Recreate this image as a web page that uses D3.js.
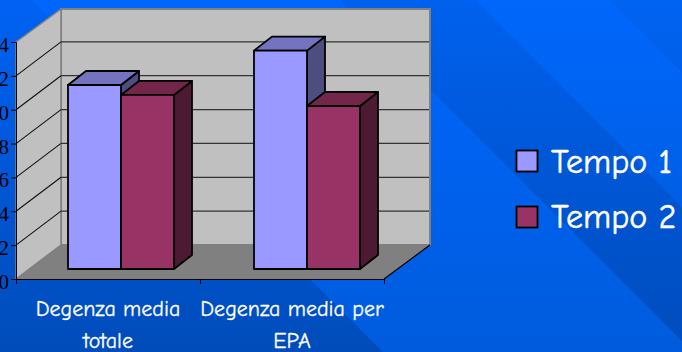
<!DOCTYPE html>
<html><head><meta charset="utf-8">
<script src="https://cdnjs.cloudflare.com/ajax/libs/d3/7.8.5/d3.min.js"></script>
<style>html,body{margin:0;padding:0;background:#0058d8;overflow:hidden}svg{display:block}</style>
</head><body><svg id="c" width="682" height="352"></svg>
<script>
const categories = [["Degenza media","totale"],["Degenza media per","EPA"]];
const tempo1 = [10.87, 12.9];
const tempo2 = [10.28, 9.63];
const seriesNames = ["Tempo 1","Tempo 2"];
const yTicks = [0,2,4,6,8,10,12,14];
const frontColors = ["#9999ff","#993366"];
const topColors = ["#7373bf","#732649"];
const sideColors = ["#4d4d80","#4d1a33"];
const bandEdges = [-400,31,341,475,610,800];
const bandTop = ["#0062f4","#0066ff","#0061ee","#0067fc","#0063f2"];
const bandBottom = ["#004cba","#005cdc","#004cbc","#0058d4","#0052c6"];

const W=682,H=352;
const svg=d3.select("#c");
const defs=svg.append("defs");
bandTop.forEach((c,i)=>{
  const gr=defs.append("linearGradient").attr("id","b"+i).attr("gradientUnits","userSpaceOnUse").attr("x1",0).attr("y1",0).attr("x2",0).attr("y2",H);
  gr.append("stop").attr("offset",0).attr("stop-color",c);
  gr.append("stop").attr("offset",1).attr("stop-color",bandBottom[i]);
  const a=bandEdges[i],b=bandEdges[i+1];
  svg.append("polygon").attr("points",[[a,0],[b,0],[b+H,H],[a+H,H]].map(p=>p.join(",")).join(" ")).attr("fill",`url(#b${i})`);
});

const y=d3.scaleLinear().domain([0,14]).range([279,42]);
const xAxisScale=d3.scaleBand().domain([0,1]).range([16,384]);
const xBar=d3.scaleBand().domain([0,1]).range([28,400]);
const xSeries=d3.scaleBand().domain([0,1]).range([0,106]);
const backDx=45,backDy=-34,barBaseLift=10,barDx=18,barDy=-14;
const pt=a=>a.map(p=>p.join(",")).join(" ");
const g=svg.append("g");
const x0=16, x1=384, y0=y(0), yT=y(14);
// walls and floor
g.append("polygon").attr("points",pt([[x0+backDx,yT+backDy+1],[x1+backDx+1,yT+backDy+1],[x1+backDx+1,y0+backDy],[x0+backDx,y0+backDy]])).attr("fill","#c0c0c0").attr("stroke","#808080").attr("stroke-width",2);
g.append("polygon").attr("points",pt([[x0,yT],[x0+backDx,yT+backDy+1],[x0+backDx,y0+backDy],[x0,y0]])).attr("fill","#c0c0c0").attr("stroke","#808080").attr("stroke-width",1.5);
g.append("polygon").attr("points",pt([[x0,y0],[x0+backDx,y0+backDy],[x1+backDx+1,y0+backDy],[x1,y0]])).attr("fill","#808080");
g.append("line").attr("x1",x1).attr("y1",y0).attr("x2",x1+backDx+1).attr("y2",y0+backDy).attr("stroke","#000").attr("stroke-width",1.2);
// gridlines
yTicks.slice(1,-1).forEach(t=>{
  const yy=y(t);
  g.append("line").attr("x1",x0).attr("y1",yy).attr("x2",x0+backDx).attr("y2",yy+backDy).attr("stroke","#111").attr("stroke-width",1.1);
  g.append("line").attr("x1",x0+backDx).attr("x2",x1+backDx).attr("y1",yy+backDy).attr("y2",yy+backDy).attr("stroke","#333").attr("stroke-width",1.3);
});
// bars
[tempo1,tempo2].forEach((vals,s)=>{
  vals.forEach((v,i)=>{
    const bx=xBar(i)+(xBar.bandwidth()-106)/2+xSeries(s), bw=xSeries.bandwidth();
    const base=y(0)-barBaseLift, top=base-(y(0)-y(v));
    const b=g.append("g").attr("stroke","#000").attr("stroke-width",1.8).attr("stroke-linejoin","round");
    b.append("polygon").attr("points",pt([[bx+bw,top],[bx+bw+barDx,top+barDy],[bx+bw+barDx,base+barDy],[bx+bw,base]])).attr("fill",sideColors[s]);
    b.append("polygon").attr("points",pt([[bx,top],[bx+barDx,top+barDy],[bx+bw+barDx,top+barDy],[bx+bw,top]])).attr("fill",topColors[s]);
    b.append("rect").attr("x",bx).attr("y",top).attr("width",bw).attr("height",base-top).attr("fill",frontColors[s]);
  });
});
// axes
const yAxis=d3.axisLeft(y).tickValues(yTicks).tickSize(5).tickPadding(2);
const ga=svg.append("g").attr("transform",`translate(${x0},0)`).call(yAxis);
ga.selectAll("text").attr("font-family","'Liberation Serif',serif").attr("font-size",21).attr("dy","9.5px").attr("fill","#000");
ga.selectAll("line,path").attr("stroke","#000");
const xAxis=d3.axisBottom(d3.scaleLinear().domain([0,2]).range([x0,x1])).tickValues([0,1,2]).tickSize(5).tickFormat("");
const gx=svg.append("g").attr("transform",`translate(0,${y0})`).call(xAxis);
gx.selectAll("line,path").attr("stroke","#000");
// category labels
const FF="'Comic Sans MS','Comic Neue',cursive,Lato,sans-serif";
categories.forEach((lines,i)=>{
  lines.forEach((l,k)=>{
    svg.append("text").attr("x",xAxisScale(i)+xAxisScale.bandwidth()/2).attr("y",[316,348][k]).attr("text-anchor","middle")
      .attr("font-family",FF).attr("font-size",22).attr("fill","#fff").attr("stroke","#fff").attr("stroke-width",.3).text(l);
  });
});
// legend
seriesNames.forEach((n,i)=>{
  const top=[150,206][i];
  svg.append("rect").attr("x",516.5).attr("y",top+.5).attr("width",21).attr("height",21).attr("fill",frontColors[i]).attr("stroke","#000").attr("stroke-width",1.8);
  svg.append("text").attr("x",551).attr("y",[173,228][i]).attr("font-family",FF).attr("font-size",34).attr("fill","#fff").attr("stroke","#fff").attr("stroke-width",.5).text(n);
});
</script></body></html>
